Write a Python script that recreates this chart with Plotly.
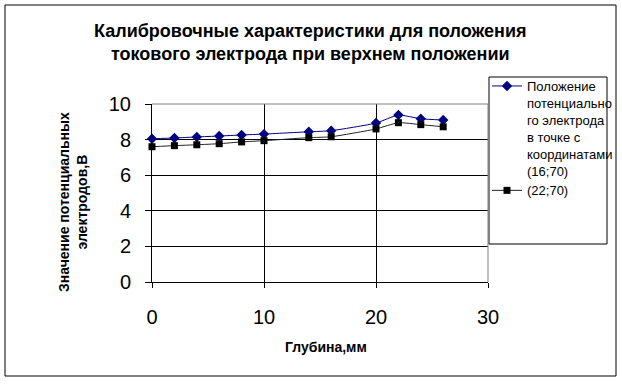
import plotly.graph_objects as go

depth = [0, 2, 4, 6, 8, 10, 14, 16, 20, 22, 24, 26]
series_16_70 = [8.05, 8.09, 8.15, 8.2, 8.26, 8.31, 8.44, 8.5, 8.93, 9.38, 9.17, 9.1]
series_22_70 = [7.6, 7.66, 7.71, 7.77, 7.87, 7.94, 8.11, 8.16, 8.6, 8.95, 8.84, 8.72]
name_1 = "Положение<br>потенциально<br>го электрода<br>в точке с<br>координатами<br>(16;70)"
name_2 = "(22;70)"
title_text = "Калибровочные характеристики для положения<br>токового электрода при верхнем положении"
x_title = "Глубина,мм"
y_title = "Значение потенциальных<br>электродов,В"
x_ticks = [0, 10, 20, 30]
y_ticks = [0, 2, 4, 6, 8, 10]

FONT = "Liberation Sans, Arial, sans-serif"
W, H = 622, 385
L, R, T, B = 152, 488, 104, 282
pw, ph = R - L, B - T

def px(x):
    return (x - L) / pw

def py(y):
    return (B - y) / ph

fig = go.Figure()
fig.add_trace(go.Scatter(
    x=depth, y=series_16_70, name=name_1, mode="lines+markers",
    line=dict(color="#000080", width=1, shape="spline", smoothing=0.5),
    marker=dict(symbol="diamond", size=8, color="#000080"),
    cliponaxis=False,
))
fig.add_trace(go.Scatter(
    x=depth, y=series_22_70, name=name_2, mode="lines+markers",
    line=dict(color="#222222", width=1, shape="spline", smoothing=0.5),
    marker=dict(symbol="square", size=7, color="black"),
    cliponaxis=False,
))

shapes = [
    dict(type="rect", xref="paper", yref="paper", x0=px(5), x1=px(616), y0=py(376), y1=py(5),
         line=dict(color="black", width=1), fillcolor="rgba(0,0,0,0)", layer="below"),
    dict(type="line", xref="paper", yref="paper", x0=0, x1=1, y0=1, y1=1,
         line=dict(color="#808080", width=1), layer="above"),
    dict(type="line", xref="paper", yref="paper", x0=1, x1=1, y0=0, y1=1,
         line=dict(color="#808080", width=1), layer="above"),
    dict(type="rect", xref="paper", yref="paper", x0=px(489), x1=px(607), y0=py(244), y1=py(77),
         line=dict(color="black", width=1), fillcolor="white", layer="below"),
]

annotations = [
    dict(text="<b>" + title_text.replace("<br>", "</b><br><b>") + "</b>", xref="paper", yref="paper",
         x=px(310), y=py(42), xanchor="center", yanchor="middle", showarrow=False,
         font=dict(family=FONT, size=18, color="black"), align="center"),
    dict(text="<b>" + x_title + "</b>", xref="paper", yref="paper",
         x=px(326), y=py(347), xanchor="center", yanchor="middle", showarrow=False,
         font=dict(family=FONT, size=14, color="black")),
    dict(text="<b>" + y_title.replace("<br>", "</b><br><b>") + "</b>", xref="paper", yref="paper",
         x=px(73), y=py(202), xanchor="center", yanchor="middle", showarrow=False, textangle=-90,
         font=dict(family=FONT, size=14, color="black"), align="center"),
]

fig.update_layout(
    width=W, height=H,
    margin=dict(l=L, r=W - R, t=T, b=H - B, pad=0, autoexpand=False),
    paper_bgcolor="white", plot_bgcolor="white",
    font=dict(family=FONT, color="black"),
    showlegend=True,
    legend=dict(xref="container", yref="container", x=487 / W, y=1 - 71 / H,
                xanchor="left", yanchor="top",
                bgcolor="rgba(0,0,0,0)", borderwidth=0, valign="top",
                font=dict(family=FONT, size=13, color="black"),
                itemwidth=30, tracegroupgap=0),
    shapes=shapes, annotations=annotations,
    xaxis=dict(range=[0, 30], tickvals=x_ticks, showgrid=True, gridcolor="black", gridwidth=1,
               showline=True, linecolor="black", linewidth=1, ticks="outside", ticklen=5,
               tickcolor="black", zeroline=False, ticklabelstandoff=12,
               tickfont=dict(family=FONT, size=20, color="black")),
    yaxis=dict(range=[0, 10], tickvals=y_ticks, showgrid=True, gridcolor="black", gridwidth=1,
               showline=True, linecolor="black", linewidth=1, ticks="outside", ticklen=6,
               tickcolor="black", zeroline=False, ticklabelstandoff=10,
               tickfont=dict(family=FONT, size=20, color="black")),
)

fig.write_html("out.html", config={"displayModeBar": False},
               post_script="document.body.style.margin='0';document.body.style.padding='0';")
